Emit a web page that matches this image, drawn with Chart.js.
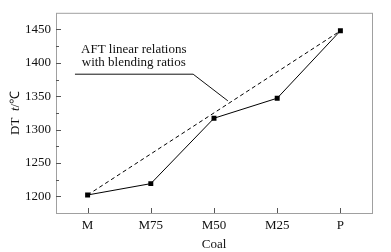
<!DOCTYPE html>
<html>
<head>
<meta charset="utf-8">
<script src="https://cdn.jsdelivr.net/npm/chart.js@4/dist/chart.umd.min.js"></script>
<style>
  html, body { margin: 0; padding: 0; background: #fff; }
  canvas { display: block; }
</style>
</head>
<body>
<canvas id="dtChart" width="391" height="252"></canvas>
<script>
// --- datos ---
const coals = ['M', 'M75', 'M50', 'M25', 'P'];
const dtValues = [1202, 1219, 1317, 1347, 1448];
const linearValues = [1202, null, null, null, 1448]; // recta M -> P
const yTicks = [1200, 1250, 1300, 1350, 1400, 1450];
const yMinorTicks = [1225, 1275, 1325, 1375, 1425];
const noteLines = ['AFT linear relations', 'with blending ratios'];

const serif = "'Liberation Serif'";

// marco, ticks hacia dentro, título Y y anotación
const extras = {
    id: 'extras',
    afterDraw(chart) {
        const c = chart.ctx;
        const a = chart.chartArea;
        const xs = chart.scales.x, ys = chart.scales.y;
        c.save();
        c.strokeStyle = '#a0a0a0';
        c.lineWidth = 1;
        c.strokeRect(a.left + 0.5, a.top + 0.5, a.right - a.left, a.bottom - a.top);

        c.strokeStyle = '#555';
        c.beginPath();
        yTicks.forEach(v => {
            const y = Math.round(ys.getPixelForValue(v)) + 0.5;
            c.moveTo(a.left, y); c.lineTo(a.left + 5, y);
        });
        yMinorTicks.forEach(v => {
            const y = Math.round(ys.getPixelForValue(v)) + 0.5;
            c.moveTo(a.left, y); c.lineTo(a.left + 3, y);
        });
        coals.forEach((_, i) => {
            const x = Math.round(xs.getPixelForValue(i)) + 0.5;
            c.moveTo(x, a.bottom); c.lineTo(x, a.bottom - 5);
        });
        c.stroke();

        // leyenda-anotación
        c.fillStyle = '#111';
        c.font = '13px ' + serif;
        c.textAlign = 'center';
        c.textBaseline = 'alphabetic';
        const tx = xs.getPixelForValue(0.73);
        c.fillText(noteLines[0], tx, ys.getPixelForValue(1415));
        c.fillText(noteLines[1], tx, ys.getPixelForValue(1395));
        c.strokeStyle = '#111';
        c.beginPath();
        c.moveTo(xs.getPixelForValue(-0.2), ys.getPixelForValue(1383));
        c.lineTo(xs.getPixelForValue(1.67), ys.getPixelForValue(1383));
        c.lineTo(xs.getPixelForValue(2.22), ys.getPixelForValue(1343));
        c.stroke();

        // título eje Y: "DT  t/℃" con t en cursiva
        c.translate(16, (a.top + a.bottom) / 2);
        c.rotate(-Math.PI / 2);
        c.textBaseline = 'middle';
        c.textAlign = 'left';
        const parts = [['DT  ', '13px ' + serif], ['t', 'italic 13px ' + serif], ['/℃', '13px ' + serif]];
        let total = 0;
        parts.forEach(p => { c.font = p[1]; total += c.measureText(p[0]).width; });
        let px = -total / 2;
        parts.forEach(p => { c.font = p[1]; c.fillText(p[0], px, 0); px += c.measureText(p[0]).width; });
        c.restore();
    }
};

const ctx = document.getElementById('dtChart').getContext('2d');
new Chart(ctx, {
    type: 'line',
    data: {
        labels: coals,
        datasets: [{
            label: 'DT',
            data: dtValues,
            borderColor: '#000',
            backgroundColor: '#000',
            borderWidth: 1,
            pointStyle: 'rect',
            pointRadius: 3.5,
            pointBorderWidth: 0,
            tension: 0,
            fill: false
        }, {
            label: 'Linear',
            data: linearValues,
            borderColor: '#000',
            borderWidth: 1,
            borderDash: [4, 3],
            pointRadius: 0,
            spanGaps: true,
            fill: false
        }]
    },
    options: {
        responsive: false,
        animation: false,
        devicePixelRatio: 1,
        layout: { padding: { top: 5, right: 19, left: 0, bottom: 0 } },
        plugins: { legend: { display: false }, tooltip: { enabled: false } },
        scales: {
            x: {
                offset: true,
                grid: { display: false, drawTicks: false },
                border: { display: false },
                ticks: { color: '#111', font: { family: serif, size: 13 }, padding: 5, maxRotation: 0 },
                title: { display: true, text: 'Coal', color: '#111', font: { family: serif, size: 13 }, padding: { top: 6, bottom: 0 } },
                afterFit: s => { s.height = 39; }
            },
            y: {
                min: 1175,
                max: 1475,
                afterBuildTicks: s => { s.ticks = yTicks.map(v => ({ value: v })); },
                grid: { display: false, drawTicks: false },
                border: { display: false },
                ticks: { color: '#111', font: { family: serif, size: 13 }, padding: 5, callback: v => String(v) },
                afterFit: s => { s.width = 56; }
            }
        }
    },
    plugins: [extras]
});
</script>
</body>
</html>
